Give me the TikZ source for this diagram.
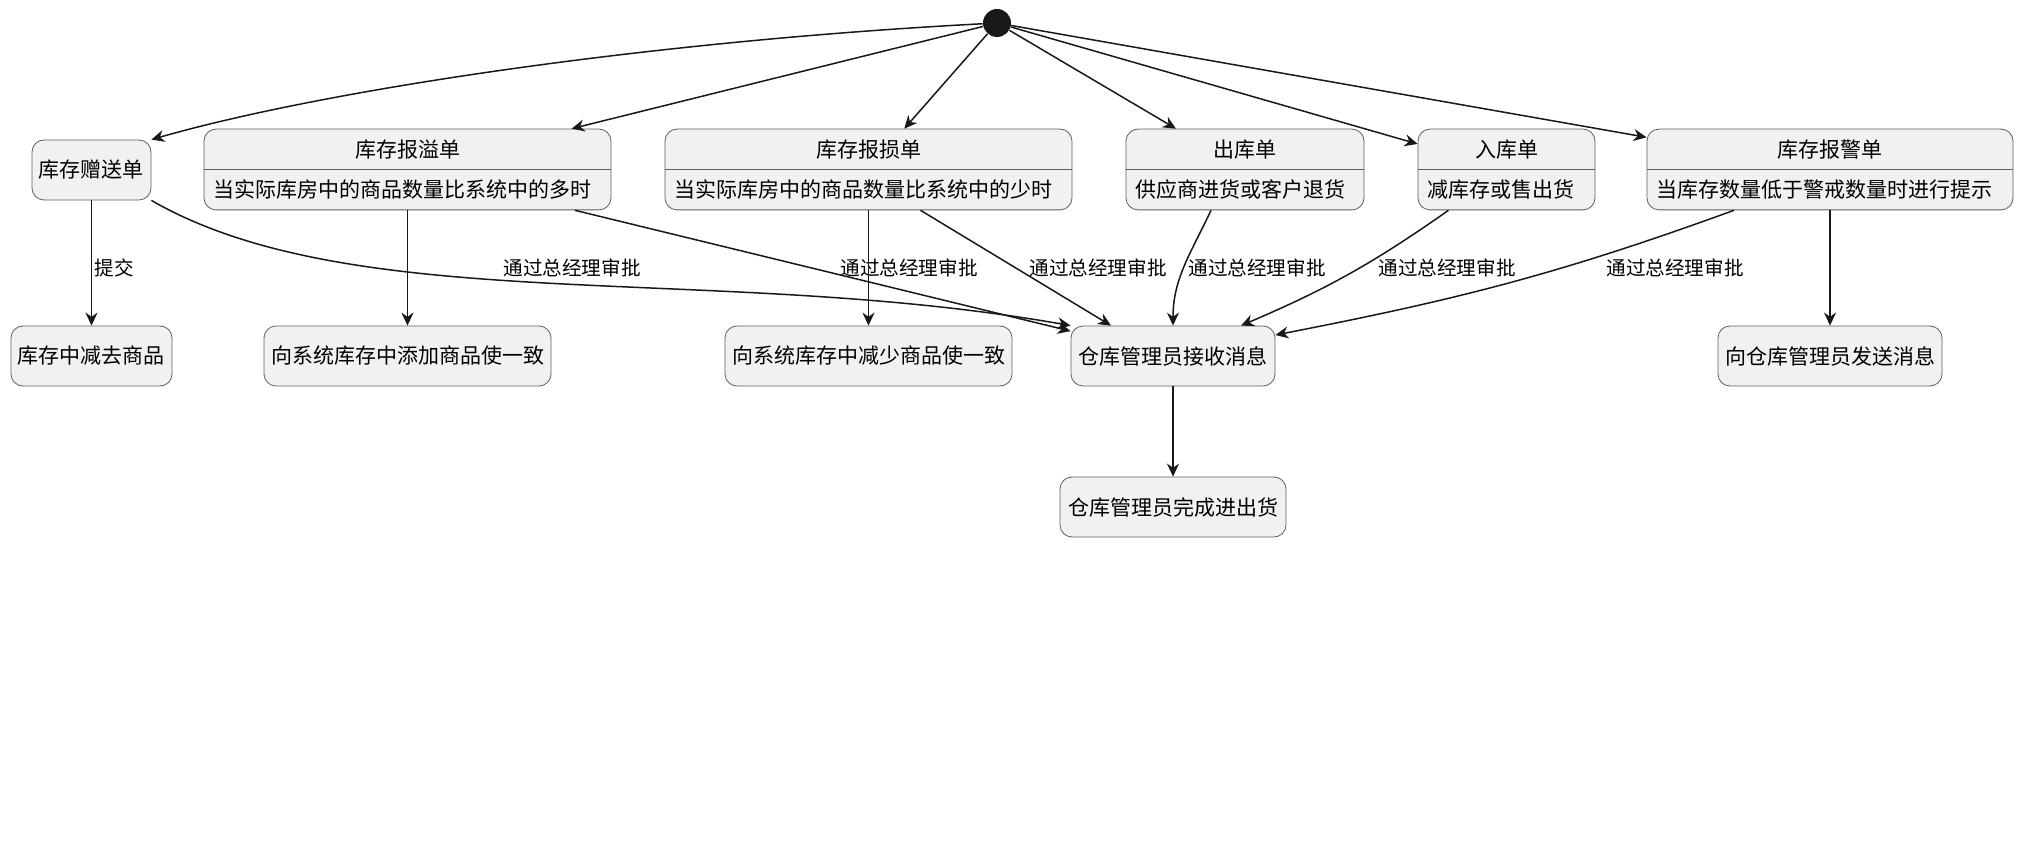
\documentclass[tikz,border=0pt]{standalone}
\usepackage{fontspec}
\setmainfont{Noto Sans CJK SC}
\usetikzlibrary{arrows.meta,shapes.multipart,positioning}

\definecolor{boxfill}{HTML}{F1F1F1}
\definecolor{boxline}{HTML}{5E5E5E}
\definecolor{arrowline}{HTML}{181818}
\newcommand{\boxstrut}{\rule[-1.5pt]{0pt}{10.8pt}}

\begin{document}
\begin{tikzpicture}[
x=0.5pt, y=0.5pt,
>={Stealth[length=6.5pt,width=6pt]},
state/.style={draw=boxline, fill=boxfill, rounded corners=6pt, inner sep=0pt, minimum height=30pt, font=\fontsize{10.5pt}{12pt}\selectfont},
form/.style={rectangle split, rectangle split parts=2, rectangle split part align={center,left}, draw=boxline, fill=boxfill, rounded corners=6pt, inner xsep=4.5pt, inner ysep=4.5pt, font=\fontsize{10.5pt}{12pt}\selectfont},
start/.style={circle, fill=arrowline, minimum size=14pt, inner sep=0pt},
lbl/.style={anchor=west, inner sep=0pt, font=\fontsize{9.8pt}{11pt}\selectfont},
flow/.style={->, draw=arrowline, line width=0.75pt}
]
\useasboundingbox (0,0) rectangle (2024,-845);

%Nodes
\node[start]                          (init)   at (997,-23)      {};
\node[state, minimum width=59.5pt]    (gift)   at (91.5,-170)    {库存赠送单};
\node[form, minimum width=203.5pt]    (over)   at (407.5,-169.5) {\boxstrut 库存报溢单\nodepart{two}\boxstrut 当实际库房中的商品数量比系统中的多时};
\node[form, minimum width=203.5pt]    (loss)   at (868.5,-169.5) {\boxstrut 库存报损单\nodepart{two}\boxstrut 当实际库房中的商品数量比系统中的少时};
\node[form, minimum width=119pt]      (outf)   at (1245,-169.5)  {\boxstrut 出库单\nodepart{two}\boxstrut 供应商进货或客户退货};
\node[form, minimum width=88.5pt]     (inf)    at (1506.5,-169.5){\boxstrut 入库单\nodepart{two}\boxstrut 减库存或售出货};
\node[form, minimum width=183pt]      (alarm)  at (1830,-169.5)  {\boxstrut 库存报警单\nodepart{two}\boxstrut 当库存数量低于警戒数量时进行提示};
\node[state, minimum width=80.5pt]    (minus)  at (91.5,-356)    {库存中减去商品};
\node[state, minimum width=143.5pt]   (add)    at (407.5,-356)   {向系统库存中添加商品使一致};
\node[state, minimum width=143.5pt]   (reduce) at (868.5,-356)   {向系统库存中减少商品使一致};
\node[state, minimum width=102pt]     (recv)   at (1173,-356)    {仓库管理员接收消息};
\node[state, minimum width=112pt]     (send)   at (1830,-356)    {向仓库管理员发送消息};
\node[state, minimum width=113pt]     (done)   at (1173,-507)    {仓库管理员完成进出货};

%Labels
\node[lbl] (lsub)   at (94,-268)   {提交};
\node[lbl] (lgift)  at (503,-268)  {通过总经理审批};
\node[lbl] (lover)  at (840,-268)  {通过总经理审批};
\node[lbl] (lloss)  at (1029,-268) {通过总经理审批};
\node[lbl] (loutf)  at (1188,-268) {通过总经理审批};
\node[lbl] (linf)   at (1378,-268) {通过总经理审批};
\node[lbl] (lalarm) at (1606,-268) {通过总经理审批};

%Lines
\draw[flow] (init) to[out=183, in=16, in looseness=0.56] (gift.north east);
\draw[flow] (init) -- (over);
\draw[flow] (init) -- (loss);
\draw[flow] (init) -- (outf);
\draw[flow] (init) -- (inf);
\draw[flow] (init) -- (alarm);
\draw[flow] (gift) -- (minus);
\draw[flow] (gift.south east) to[out=-30, in=170, out looseness=0.65] (recv.north west);
\draw[flow] (over) -- (add);
\draw[flow] (over) -- (recv);
\draw[flow] (loss) -- (reduce);
\draw[flow] ([xshift=26pt]loss.south) -- ([xshift=-31pt]recv.north);
\draw[flow] ([xshift=-17pt]outf.south) to[out=-115, in=90] (recv.north);
\draw[flow] ([xshift=-29pt]inf.south) to[bend left=6] ([xshift=34pt]recv.north);
\draw[flow] ([xshift=-48pt]alarm.south) to[out=-160, in=11] ([yshift=10.5pt]recv.east);
\draw[flow] (alarm) -- (send);
\draw[flow] (recv) -- (done);
\end{tikzpicture}
\end{document}
